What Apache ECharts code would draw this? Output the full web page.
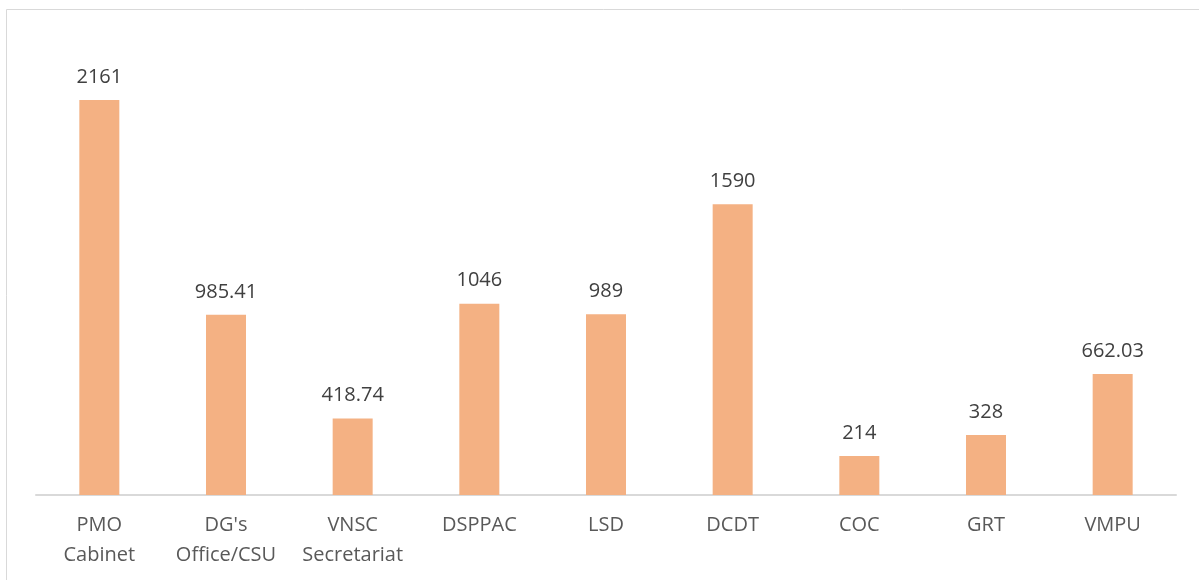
<!DOCTYPE html>
<html>
<head>
<meta charset="utf-8">
<script src="https://cdn.jsdelivr.net/npm/echarts@6/dist/echarts.min.js"></script>
<style>
  html, body { margin: 0; padding: 0; background: #fff; }
  #chart { width: 1199px; height: 580px; }
</style>
</head>
<body>
<div id="chart"></div>
<script>
// Units and their values
const categories = ['PMO\nCabinet', "DG's\nOffice/CSU", 'VNSC\nSecretariat', 'DSPPAC', 'LSD', 'DCDT', 'COC', 'GRT', 'VMPU'];
const values = [2161, 985.41, 418.74, 1046, 989, 1590, 214, 328, 662.03];

const chart = echarts.init(document.getElementById('chart'), null, { renderer: 'canvas' });
const fontFamily = '"Open Sans", Lato, sans-serif';

chart.setOption({
  animation: false,
  backgroundColor: '#ffffff',
  graphic: [{
    type: 'rect',
    shape: { x: 6.5, y: 9.5, width: 1300, height: 700 },
    style: { fill: 'none', stroke: '#d9d9d9', lineWidth: 1 },
    silent: true
  }],
  grid: { left: 36, right: 23, top: 38, bottom: 85, containLabel: false },
  xAxis: {
    type: 'category',
    data: categories,
    axisLine: { show: true, lineStyle: { color: '#d9d9d9', width: 2 } },
    axisTick: { show: false },
    axisLabel: {
      color: '#595959',
      fontSize: 20,
      fontFamily: fontFamily,
      lineHeight: 30,
      margin: 15,
      interval: 0
    }
  },
  yAxis: {
    type: 'value',
    min: 0,
    max: 2500,
    show: false,
    splitLine: { show: false }
  },
  series: [{
    type: 'bar',
    data: values,
    barWidth: 40,
    itemStyle: { color: '#f4b183' },
    label: {
      show: true,
      position: 'top',
      distance: 13,
      color: '#404040',
      fontSize: 20,
      fontFamily: fontFamily
    }
  }]
});
</script>
</body>
</html>
